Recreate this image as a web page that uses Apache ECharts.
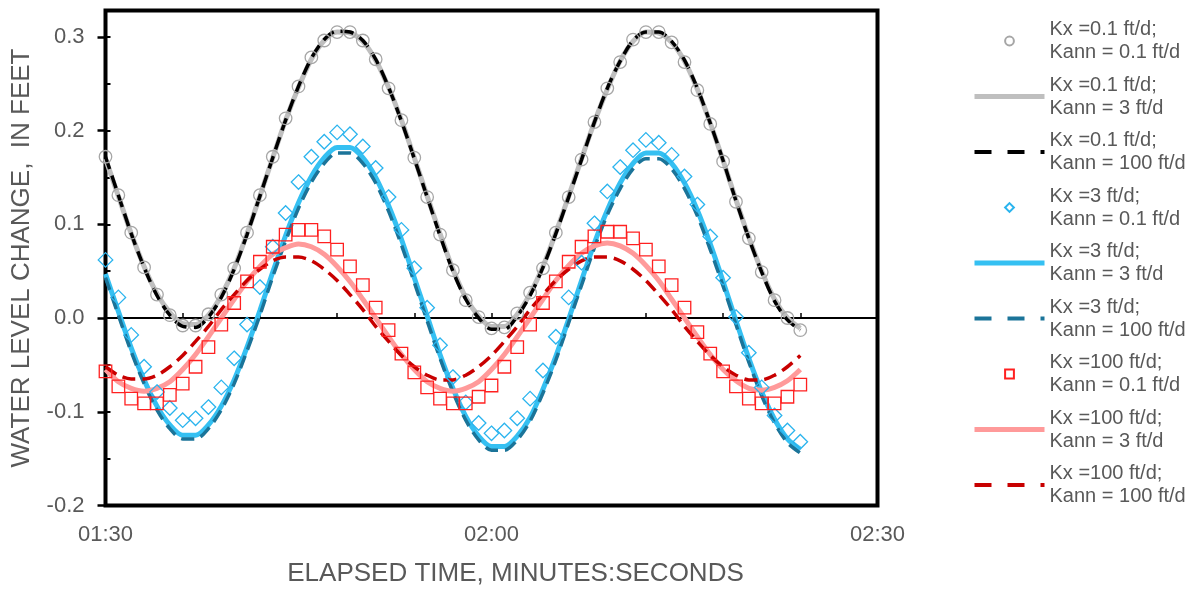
<!DOCTYPE html>
<html>
<head>
<meta charset="utf-8">
<script src="https://cdn.jsdelivr.net/npm/echarts@6/dist/echarts.min.js"></script>
<style>
    html, body { margin: 0; padding: 0; background: #fff; }
    #chart { width: 1199px; height: 592px; }
</style>
</head>
<body>
<div id="chart"></div>
<script>
// elapsed time in seconds (01:30 = 90)
var seconds = [90, 91, 92, 93, 94, 95, 96, 97, 98, 99, 100, 101, 102, 103, 104, 105, 106, 107, 108, 109,
    110, 111, 112, 113, 114, 115, 116, 117, 118, 119, 120, 121, 122, 123, 124, 125, 126, 127, 128, 129,
    130, 131, 132, 133, 134, 135, 136, 137, 138, 139, 140, 141, 142, 143, 144];
var xTicks = [90, 120, 150];
var yTicks = [-0.2, -0.1, 0.0, 0.1, 0.2, 0.3];

// Kx = 0.1 ft/d
var kx01_kann01 = [0.172, 0.131, 0.091, 0.054, 0.025, 0.003, -0.008, -0.008, 0.004, 0.025, 0.053, 0.091, 0.131, 0.172, 0.213, 0.247, 0.278, 0.296, 0.305, 0.305,
    0.296, 0.276, 0.245, 0.211, 0.171, 0.129, 0.089, 0.051, 0.019, 0.001, -0.011, -0.010, 0.005, 0.027, 0.053, 0.091, 0.129, 0.169, 0.209, 0.245,
    0.273, 0.297, 0.305, 0.305, 0.294, 0.273, 0.243, 0.207, 0.167, 0.124, 0.085, 0.049, 0.019, 0.000, -0.013];
var kx01_kann3 = [0.170, 0.130, 0.090, 0.055, 0.026, 0.006, -0.006, -0.007, 0.003, 0.024, 0.053, 0.090, 0.130, 0.171, 0.211, 0.246, 0.276, 0.296, 0.305, 0.304,
    0.295, 0.275, 0.246, 0.211, 0.171, 0.130, 0.090, 0.052, 0.022, 0.002, -0.009, -0.009, 0.004, 0.026, 0.055, 0.091, 0.130, 0.170, 0.209, 0.244,
    0.274, 0.295, 0.305, 0.304, 0.294, 0.274, 0.244, 0.208, 0.168, 0.126, 0.086, 0.050, 0.020, 0.000, -0.011];
var kx01_kann100 = [0.172, 0.131, 0.090, 0.054, 0.024, 0.003, -0.009, -0.010, 0.001, 0.022, 0.052, 0.089, 0.130, 0.171, 0.211, 0.247, 0.277, 0.297, 0.306, 0.305,
    0.296, 0.276, 0.246, 0.210, 0.170, 0.129, 0.088, 0.050, 0.020, 0.000, -0.012, -0.012, 0.002, 0.024, 0.054, 0.090, 0.129, 0.169, 0.209, 0.245,
    0.274, 0.296, 0.305, 0.305, 0.295, 0.275, 0.245, 0.208, 0.168, 0.125, 0.085, 0.049, 0.018, -0.002, -0.013];

// Kx = 3 ft/d
var kx3_kann01 = [0.062, 0.022, -0.018, -0.052, -0.079, -0.096, -0.109, -0.107, -0.095, -0.074, -0.043, -0.007, 0.033, 0.076, 0.112, 0.145, 0.172, 0.188, 0.198, 0.196,
    0.183, 0.160, 0.129, 0.094, 0.053, 0.011, -0.029, -0.063, -0.090, -0.112, -0.123, -0.120, -0.107, -0.086, -0.056, -0.020, 0.022, 0.059, 0.101, 0.135,
    0.161, 0.179, 0.190, 0.187, 0.174, 0.151, 0.121, 0.087, 0.043, 0.001, -0.037, -0.074, -0.104, -0.120, -0.132];
var kx3_kann3 = [0.047, 0.007, -0.032, -0.066, -0.094, -0.114, -0.125, -0.125, -0.114, -0.094, -0.066, -0.031, 0.008, 0.049, 0.088, 0.123, 0.151, 0.171, 0.182, 0.182,
    0.171, 0.150, 0.120, 0.084, 0.043, 0.002, -0.039, -0.075, -0.105, -0.126, -0.137, -0.137, -0.126, -0.106, -0.076, -0.041, -0.001, 0.040, 0.080, 0.115,
    0.144, 0.165, 0.176, 0.176, 0.165, 0.144, 0.115, 0.079, 0.039, -0.003, -0.043, -0.079, -0.108, -0.129, -0.140];
var kx3_kann100 = [0.043, 0.003, -0.036, -0.070, -0.098, -0.118, -0.129, -0.129, -0.118, -0.098, -0.070, -0.035, 0.003, 0.044, 0.082, 0.117, 0.145, 0.165, 0.176, 0.176,
    0.165, 0.144, 0.114, 0.078, 0.038, -0.003, -0.043, -0.079, -0.109, -0.130, -0.141, -0.141, -0.130, -0.110, -0.080, -0.045, -0.005, 0.035, 0.075, 0.110,
    0.138, 0.159, 0.170, 0.170, 0.159, 0.138, 0.109, 0.073, 0.034, -0.007, -0.047, -0.083, -0.112, -0.133, -0.144];

// Kx = 100 ft/d
var kx100_kann01 = [-0.057, -0.073, -0.086, -0.091, -0.091, -0.082, -0.070, -0.052, -0.031, -0.007, 0.016, 0.039, 0.060, 0.076, 0.089, 0.094, 0.094, 0.087, 0.073, 0.055,
    0.035, 0.011, -0.013, -0.038, -0.058, -0.074, -0.086, -0.091, -0.091, -0.084, -0.072, -0.052, -0.031, -0.007, 0.016, 0.039, 0.060, 0.076, 0.087, 0.092,
    0.092, 0.085, 0.073, 0.055, 0.035, 0.011, -0.015, -0.038, -0.057, -0.073, -0.086, -0.091, -0.091, -0.084, -0.071];
var kx100_kann3 = [-0.055, -0.068, -0.075, -0.078, -0.075, -0.068, -0.055, -0.039, -0.020, 0.000, 0.020, 0.039, 0.055, 0.068, 0.075, 0.079, 0.076, 0.068, 0.055, 0.039,
    0.020, 0.000, -0.020, -0.039, -0.055, -0.068, -0.075, -0.078, -0.075, -0.068, -0.055, -0.039, -0.020, 0.000, 0.020, 0.040, 0.056, 0.069, 0.077, 0.080,
    0.077, 0.069, 0.056, 0.040, 0.020, 0.000, -0.020, -0.039, -0.055, -0.067, -0.075, -0.077, -0.074, -0.067, -0.055];
var kx100_kann100 = [-0.052, -0.061, -0.065, -0.065, -0.061, -0.052, -0.040, -0.025, -0.009, 0.009, 0.025, 0.040, 0.052, 0.061, 0.065, 0.065, 0.061, 0.052, 0.040, 0.025,
    0.009, -0.009, -0.025, -0.040, -0.052, -0.061, -0.066, -0.066, -0.061, -0.052, -0.040, -0.025, -0.009, 0.009, 0.025, 0.040, 0.052, 0.061, 0.065, 0.065,
    0.061, 0.052, 0.040, 0.025, 0.009, -0.009, -0.025, -0.040, -0.052, -0.061, -0.066, -0.066, -0.061, -0.052, -0.040];

var seriesNames = [
    'Kx =0.1 ft/d;\nKann = 0.1 ft/d',
    'Kx =0.1 ft/d;\nKann = 3 ft/d',
    'Kx =0.1 ft/d;\nKann = 100 ft/d',
    'Kx =3 ft/d;\nKann = 0.1 ft/d',
    'Kx =3 ft/d;\nKann = 3 ft/d',
    'Kx =3 ft/d;\nKann = 100 ft/d',
    'Kx =100 ft/d;\nKann = 0.1 ft/d',
    'Kx =100 ft/d;\nKann = 3 ft/d',
    'Kx =100 ft/d;\nKann = 100 ft/d'
];

var FONT = '"Liberation Sans", Arial, sans-serif';
var TEXT = '#595959';

function pairs(values) {
    var out = [];
    for (var i = 0; i < values.length; i++) {
        out.push([seconds[i], values[i]]);
    }
    return out;
}

// markers only, no fill
function markerSeries(name, values, symbol, size, color) {
    return {
        name: name,
        type: 'line',
        data: pairs(values),
        symbol: symbol,
        symbolSize: size,
        showAllSymbol: true,
        lineStyle: { opacity: 0 },
        itemStyle: { color: 'rgba(255,255,255,0)', borderColor: color, borderWidth: 1.3 },
        emphasis: { disabled: true },
        silent: true,
        animation: false
    };
}

function lineSeries(name, values, color, width, dash) {
    return {
        name: name,
        type: 'line',
        data: pairs(values),
        symbol: 'none',
        smooth: 0.3,
        lineStyle: { color: color, width: width, type: dash ? [13, 7] : 'solid' },
        itemStyle: { color: color },
        emphasis: { disabled: true },
        silent: true,
        animation: false
    };
}

function mmss(v) {
    var m = Math.floor(v / 60), s = v % 60;
    return (m < 10 ? '0' : '') + m + ':' + (s < 10 ? '0' : '') + s;
}

// legend entry for a line series: no dot on the icon
function legendLine(name, width, dash) {
    return {
        name: name,
        itemStyle: { opacity: 0 },
        lineStyle: { width: width, type: dash ? [17, 16] : 'solid' }
    };
}

var chart = echarts.init(document.getElementById('chart'), null, { renderer: 'canvas' });

var option = {
    backgroundColor: '#fff',
    animation: false,
    grid: {
        left: 105.5, top: 10.5, width: 772, height: 495,
        show: true, borderColor: '#000', borderWidth: 4, backgroundColor: 'transparent'
    },
    legend: {
        orient: 'vertical',
        left: 972, top: 6.5, padding: 0,
        itemWidth: 70, itemHeight: 11, itemGap: -13.5,
        selectedMode: false,
        textStyle: { fontFamily: FONT, fontSize: 20, lineHeight: 23, color: TEXT, padding: [23, 0, 0, 0] },
        data: [
            { name: seriesNames[0] },
            legendLine(seriesNames[1], 5, false),
            legendLine(seriesNames[2], 4, true),
            { name: seriesNames[3] },
            legendLine(seriesNames[4], 5, false),
            legendLine(seriesNames[5], 4, true),
            { name: seriesNames[6] },
            legendLine(seriesNames[7], 5, false),
            legendLine(seriesNames[8], 4, true)
        ]
    },
    xAxis: [
        {
            type: 'value', min: xTicks[0], max: xTicks[xTicks.length - 1], interval: 30,
            position: 'bottom',
            axisLine: { show: false, onZero: false },
            axisTick: { show: false },
            splitLine: { show: false },
            axisLabel: { fontFamily: FONT, fontSize: 22, color: TEXT, margin: 18, formatter: mmss },
            name: 'ELAPSED TIME, MINUTES:SECONDS',
            nameLocation: 'middle', nameGap: 55,
            nameTextStyle: { fontFamily: FONT, fontSize: 26, color: TEXT, padding: [0, 0, 0, 48] }
        },
        {
            // horizontal line at zero with small ticks
            type: 'value', min: 90, max: 150, interval: 6,
            position: 'bottom',
            axisLine: { show: true, onZero: true, onZeroAxisIndex: 0, lineStyle: { color: '#000', width: 2 } },
            axisTick: { show: true, inside: true, length: 5, lineStyle: { color: '#000', width: 1.5 } },
            axisLabel: { show: false },
            splitLine: { show: false }
        }
    ],
    yAxis: [
        {
            type: 'value', min: yTicks[0], max: 0.328, interval: 0.1,
            position: 'left',
            axisLine: { show: false },
            axisTick: { show: true, length: 8, lineStyle: { color: '#000', width: 2.5 } },
            splitLine: { show: false },
            axisLabel: {
                fontFamily: FONT, fontSize: 22, color: TEXT, margin: 21, showMaxLabel: false,
                formatter: function (v) { return v.toFixed(1); }
            },
            name: 'WATER LEVEL CHANGE,  IN FEET',
            nameLocation: 'middle', nameGap: 71,
            nameTextStyle: { fontFamily: FONT, fontSize: 26, color: TEXT }
        },
        {
            type: 'value', min: yTicks[0], max: 0.328, interval: 0.05,
            position: 'left', offset: 0,
            axisLine: { show: false },
            axisTick: { show: true, inside: true, length: 5, lineStyle: { color: '#000', width: 2 } },
            axisLabel: { show: false },
            splitLine: { show: false }
        }
    ],
    series: [
        markerSeries(seriesNames[0], kx01_kann01, 'circle', 12.5, '#a6a6a6'),
        lineSeries(seriesNames[1], kx01_kann3, '#bfbfbf', 5, false),
        lineSeries(seriesNames[2], kx01_kann100, '#000000', 3.5, true),
        markerSeries(seriesNames[3], kx3_kann01, 'diamond', 14.5, '#2ab4ee'),
        lineSeries(seriesNames[4], kx3_kann3, '#35c0f2', 5, false),
        lineSeries(seriesNames[5], kx3_kann100, '#1b7499', 3.5, true),
        markerSeries(seriesNames[6], kx100_kann01, 'rect', 12.5, '#ff2020'),
        lineSeries(seriesNames[7], kx100_kann3, '#ff9a9a', 5, false),
        lineSeries(seriesNames[8], kx100_kann100, '#c80000', 3.5, true)
    ]
};

chart.setOption(option);
</script>
</body>
</html>
